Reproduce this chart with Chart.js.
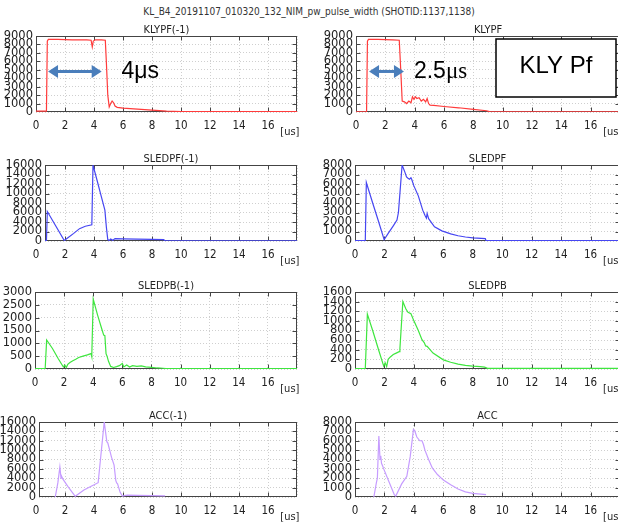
<!DOCTYPE html>
<html>
<head>
<meta charset="utf-8">
<script src="https://cdn.jsdelivr.net/npm/chart.js@4.4.1/dist/chart.umd.min.js"></script>
<style>
  html, body { margin: 0; padding: 0; background: #fff; width: 618px; height: 522px; overflow: hidden; }
  #titulo { position: absolute; left: 0; top: 6px; width: 618px; text-align: center; line-height: 12px;
            font: 10px "Liberation Sans Narrow", "DejaVu Sans Condensed", "Liberation Sans", sans-serif; color: #333; }
  canvas { position: absolute; }
</style>
</head>
<body>
<div id="titulo">KL_B4_20191107_010320_132_NIM_pw_pulse_width (SHOTID:1137,1138)</div>
<canvas id="p0"></canvas><canvas id="p1"></canvas>
<canvas id="p2"></canvas><canvas id="p3"></canvas>
<canvas id="p4"></canvas><canvas id="p5"></canvas>
<canvas id="p6"></canvas><canvas id="p7"></canvas>
<script>
// eixo x comum (us)
const xTicks = [0, 2, 4, 6, 8, 10, 12, 14, 16, 18];

// KLYPF(-1)
const klypfM1X = [0, 0.72, 0.78, 0.85, 1.5, 2.5, 3.5, 3.8, 3.88, 3.95, 4.1, 4.5, 4.78, 4.85, 4.95, 5.05, 5.15, 5.25, 5.35, 5.45, 5.6, 6, 7, 8, 9, 10, 18];
const klypfM1Y = [100, 100, 8400, 8600, 8600, 8550, 8550, 8500, 7700, 8400, 8550, 8550, 8500, 6000, 2000, 600, 1000, 1300, 1100, 700, 550, 450, 350, 220, 100, 60, 50];

// KLYPF
const klypfX = [0, 0.72, 0.78, 0.85, 1.5, 2.5, 2.95, 3.05, 3.15, 3.3, 3.45, 3.6, 3.75, 3.85, 3.95, 4.05, 4.15, 4.3, 4.45, 4.6, 4.75, 4.85, 4.95, 5.05, 5.3, 6, 7, 8, 8.9, 9.1, 18];
const klypfY = [30, 30, 8400, 8600, 8600, 8550, 8500, 5000, 1300, 1200, 1000, 1300, 1100, 1800, 1500, 1800, 1600, 1700, 1300, 1500, 1200, 1600, 1000, 800, 780, 650, 500, 300, 150, 40, 30];

// SLEDPF(-1)
const sledpfM1X = [0, 0.72, 0.78, 1.95, 2.2, 2.6, 3.0, 3.4, 3.85, 3.93, 4.2, 4.5, 4.75, 4.85, 4.95, 5.05, 5.15, 5.3, 5.45, 6, 7, 8, 8.8, 8.9, 18];
const sledpfM1Y = [100, 100, 6200, 100, 700, 1600, 2600, 3100, 3400, 16000, 12900, 9400, 6500, 3000, 300, 100, 400, 150, 500, 450, 400, 350, 300, 50, 50];

// SLEDPF
const sledpfX = [0, 0.7, 0.77, 1.2, 1.6, 1.98, 2.3, 2.6, 2.85, 2.95, 3.2, 3.4, 3.5, 3.6, 3.7, 3.8, 3.85, 4.0, 4.3, 4.6, 4.75, 4.85, 4.9, 5.0, 5.4, 5.9, 6.5, 7, 7.5, 8, 8.85, 8.9, 18];
const sledpfY = [30, 30, 6150, 4000, 2050, 150, 900, 1600, 2200, 3000, 8000, 7200, 6750, 6600, 6500, 6650, 6500, 5800, 4750, 3250, 2700, 2400, 2900, 2350, 1500, 1070, 750, 550, 420, 330, 260, 30, 30];

// SLEDPB(-1)
const sledpbM1X = [0, 0.7, 0.8, 1.2, 1.6, 1.95, 2.05, 2.15, 2.25, 2.4, 2.6, 2.8, 3.0, 3.3, 3.6, 3.85, 3.9, 4.0, 4.3, 4.6, 4.72, 4.8, 4.88, 4.95, 5.05, 5.2, 5.4, 5.6, 5.8, 6.0, 6.1, 6.3, 6.5, 6.7, 7, 7.3, 7.6, 8, 8.4, 8.8, 9, 18];
const sledpbM1Y = [20, 20, 1130, 800, 400, 80, 150, 60, 180, 250, 320, 380, 450, 500, 550, 600, 480, 2720, 2100, 1540, 1320, 1300, 600, 500, 300, 100, 60, 90, 130, 220, 80, 160, 80, 130, 100, 120, 80, 60, 40, 30, 15, 15];

// SLEDPB
const sledpbX = [0, 0.7, 0.84, 1.2, 1.6, 1.95, 2.05, 2.15, 2.25, 2.4, 2.6, 2.8, 3.0, 3.05, 3.25, 3.45, 3.6, 3.8, 4.0, 4.3, 4.55, 4.7, 4.8, 4.9, 5.3, 6, 6.5, 7, 7.5, 8, 8.5, 8.8, 9, 18];
const sledpbY = [10, 10, 1140, 800, 400, 60, 130, 50, 200, 250, 300, 330, 360, 420, 1400, 1250, 1180, 1150, 1000, 800, 610, 550, 480, 470, 330, 190, 140, 100, 75, 60, 50, 40, 15, 15];

// ACC(-1)
const accM1X = [1.32, 1.5, 1.64, 1.72, 1.78, 1.85, 2.2, 2.7, 3.3, 3.8, 4.28, 4.7, 4.88, 4.95, 5.2, 5.38, 5.5, 5.56, 5.62, 5.8, 5.95, 6.1, 6.3, 7, 8, 8.9];
const accM1Y = [0, 3000, 6400, 4000, 4300, 3800, 2200, 150, 1500, 2300, 3050, 16000, 11800, 11500, 8500, 6800, 3500, 3000, 2800, 1000, 200, 300, 400, 350, 300, 250];

// ACC
const accX = [1.28, 1.45, 1.52, 1.62, 1.7, 1.75, 1.8, 1.88, 1.95, 2.3, 2.67, 2.77, 3.17, 3.52, 3.75, 3.97, 4.05, 4.2, 4.4, 4.55, 4.65, 4.75, 5.0, 5.25, 5.6, 6.0, 6.5, 7, 7.5, 8, 8.9];
const accY = [0, 1500, 2000, 6500, 4000, 4400, 3600, 3300, 3000, 1650, 250, 100, 1400, 2200, 4300, 7200, 7100, 6400, 6000, 6000, 5600, 5000, 4000, 3100, 2400, 1800, 1300, 850, 550, 380, 250];

// geometria dos paineis (px na pagina)
const rowTop = [36, 165, 292, 422];
const rowBottom = [112, 241, 369, 497];
const colCanvasLeft = [0, 305];
const colRight = [297, 620];
const leftEdge = [[36, 356], [45, 355], [35, 355], [39, 355]];

const fonteEstreita = '"Liberation Sans Narrow", "DejaVu Sans Condensed", "Liberation Sans", sans-serif';

// moldura do grafico + marcas internas dos ticks + rotulo [us]
const moldura = {
  id: 'moldura',
  beforeDatasetsDraw(chart) {
    const { ctx, chartArea: a, scales: { x, y } } = chart;
    const l = Math.round(a.left) + 0.5, r = Math.round(a.right) - 0.5;
    const t = Math.round(a.top) + 0.5, b = Math.round(a.bottom) - 0.5;
    ctx.save();
    ctx.strokeStyle = '#444';
    ctx.lineWidth = 1;
    ctx.strokeRect(l, t, r - l, b - t);
    ctx.beginPath();
    x.ticks.forEach(tk => {
      if (tk.value <= x.min || tk.value >= x.max) return;
      const px = Math.round(x.getPixelForValue(tk.value)) + 0.5;
      ctx.moveTo(px, t); ctx.lineTo(px, t + 4);
      ctx.moveTo(px, b); ctx.lineTo(px, b - 4);
    });
    y.ticks.forEach(tk => {
      if (tk.value <= y.min || tk.value >= y.max) return;
      const py = Math.round(y.getPixelForValue(tk.value)) + 0.5;
      ctx.moveTo(l, py); ctx.lineTo(l + 4, py);
      ctx.moveTo(r, py); ctx.lineTo(r - 4, py);
    });
    ctx.stroke();
    ctx.restore();
  },
  afterDraw(chart) {
    const { ctx, chartArea: a, scales: { x } } = chart;
    ctx.save();
    ctx.font = '11px ' + fonteEstreita;
    ctx.fillStyle = '#222';
    ctx.textAlign = 'left';
    ctx.textBaseline = 'middle';
    ctx.fillText('[us]', x.getPixelForValue(16.85), a.bottom + 20);
    ctx.restore();
  }
};

function desenharSeta(ctx, x1, x2, y) {
  ctx.save();
  ctx.strokeStyle = '#4a7ebb';
  ctx.fillStyle = '#4a7ebb';
  ctx.lineWidth = 3;
  ctx.beginPath();
  ctx.moveTo(x1 + 8, y); ctx.lineTo(x2 - 8, y);
  ctx.stroke();
  ctx.beginPath();
  ctx.moveTo(x1, y); ctx.lineTo(x1 + 10, y - 6.5); ctx.lineTo(x1 + 10, y + 6.5); ctx.closePath();
  ctx.moveTo(x2, y); ctx.lineTo(x2 - 10, y - 6.5); ctx.lineTo(x2 - 10, y + 6.5); ctx.closePath();
  ctx.fill();
  ctx.restore();
}

const anotacaoEsq = {
  id: 'anotacaoEsq',
  afterDraw(chart) {
    const { ctx, scales: { x, y } } = chart;
    const yy = y.getPixelForValue(4800);
    desenharSeta(ctx, x.getPixelForValue(0.83), x.getPixelForValue(4.53), yy);
    ctx.save();
    ctx.fillStyle = '#000';
    ctx.textBaseline = 'middle';
    ctx.font = '23px "Liberation Sans", Arial, sans-serif';
    ctx.fillText('4μs', x.getPixelForValue(5.9), yy);
    ctx.restore();
  }
};

const anotacaoDir = {
  id: 'anotacaoDir',
  afterDraw(chart) {
    const { ctx, chartArea: a, scales: { x, y } } = chart;
    const yy = y.getPixelForValue(4800);
    desenharSeta(ctx, x.getPixelForValue(0.89), x.getPixelForValue(3.27), yy);
    ctx.save();
    ctx.fillStyle = '#000';
    ctx.textBaseline = 'middle';
    const x0 = x.getPixelForValue(3.95);
    ctx.font = '23px "Liberation Sans", Arial, sans-serif';
    ctx.fillText('2.5', x0, yy);
    const w = ctx.measureText('2.5').width;
    ctx.font = '23px "Liberation Serif", "Times New Roman", serif';
    ctx.fillText('μs', x0 + w, yy);
    // caixa KLY Pf
    const bx = a.left + 140, by = a.top + 3;
    ctx.fillStyle = '#fff';
    ctx.fillRect(bx, by, 120, 58);
    ctx.strokeStyle = '#000';
    ctx.lineWidth = 1.5;
    ctx.strokeRect(bx, by, 120, 58);
    ctx.fillStyle = '#000';
    ctx.textAlign = 'center';
    ctx.font = '24px "Liberation Sans", Arial, sans-serif';
    ctx.fillText('KLY Pf', bx + 60, by + 27);
    ctx.restore();
  }
};

const paineis = [
  { id: 'p0', row: 0, col: 0, titulo: 'KLYPF(-1)', xs: klypfM1X, ys: klypfM1Y, cor: '#ff3b3b', yMax: 9000, yStep: 1000, xMin: 0, extra: [anotacaoEsq] },
  { id: 'p1', row: 0, col: 1, titulo: 'KLYPF', xs: klypfX, ys: klypfY, cor: '#ff3b3b', yMax: 9000, yStep: 1000, xMin: 0, extra: [anotacaoDir] },
  { id: 'p2', row: 1, col: 0, titulo: 'SLEDPF(-1)', xs: sledpfM1X, ys: sledpfM1Y, cor: '#4646f2', yMax: 16000, yStep: 2000, xMin: 0.62, extra: [] },
  { id: 'p3', row: 1, col: 1, titulo: 'SLEDPF', xs: sledpfX, ys: sledpfY, cor: '#4646f2', yMax: 8000, yStep: 1000, xMin: 0, extra: [] },
  { id: 'p4', row: 2, col: 0, titulo: 'SLEDPB(-1)', xs: sledpbM1X, ys: sledpbM1Y, cor: '#3ee63e', yMax: 3000, yStep: 500, xMin: 0, extra: [] },
  { id: 'p5', row: 2, col: 1, titulo: 'SLEDPB', xs: sledpbX, ys: sledpbY, cor: '#3ee63e', yMax: 1600, yStep: 200, xMin: 0, extra: [] },
  { id: 'p6', row: 3, col: 0, titulo: 'ACC(-1)', xs: accM1X, ys: accM1Y, cor: '#c69cff', yMax: 16000, yStep: 2000, xMin: 0.2, extra: [] },
  { id: 'p7', row: 3, col: 1, titulo: 'ACC', xs: accX, ys: accY, cor: '#c69cff', yMax: 8000, yStep: 1000, xMin: 0, extra: [] }
];

function criarPainel(p) {
  const canvas = document.getElementById(p.id);
  const cx = colCanvasLeft[p.col];
  const top = rowTop[p.row] - 14;
  const w = colRight[p.col] + 10 - cx;
  const h = 14 + (rowBottom[p.row] - rowTop[p.row]) + 28;
  canvas.width = w;
  canvas.height = h;
  canvas.style.left = cx + 'px';
  canvas.style.top = top + 'px';
  const larguraY = leftEdge[p.row][p.col] - cx;

  new Chart(canvas, {
    type: 'line',
    data: {
      datasets: [{
        data: p.xs.map((x, i) => ({ x: x, y: p.ys[i] })),
        borderColor: p.cor,
        borderWidth: 1.2,
        pointRadius: 0,
        tension: 0,
        fill: false
      }]
    },
    options: {
      responsive: false,
      animation: false,
      devicePixelRatio: 1,
      layout: { padding: { top: 3, right: 10, left: 0, bottom: 0 } },
      plugins: {
        legend: { display: false },
        tooltip: { enabled: false },
        title: {
          display: true, text: p.titulo, fullSize: false, padding: 0, color: '#222',
          font: { family: fonteEstreita, size: 11, weight: 'normal', lineHeight: 1 }
        }
      },
      scales: {
        x: {
          type: 'linear', min: p.xMin, max: 18,
          afterFit: s => { s.height = 28; },
          afterBuildTicks: s => { s.ticks = xTicks.map(v => ({ value: v })); },
          ticks: {
            autoSkip: false, maxRotation: 0, padding: 8, color: '#222',
            font: { family: fonteEstreita, size: 11.5, lineHeight: 1 },
            callback: v => (v === 18 ? '' : String(v))
          },
          grid: {
            drawTicks: false,
            color: c => (c.tick && c.tick.value < p.xMin ? 'rgba(0,0,0,0)' : '#cfcfcf')
          },
          border: { display: false, dash: [1, 2] }
        },
        y: {
          min: 0, max: p.yMax,
          afterFit: s => { s.width = larguraY; },
          ticks: {
            stepSize: p.yStep, autoSkip: false, padding: 3, color: '#222',
            font: { family: '"DejaVu Sans", sans-serif', size: 11.5, lineHeight: 1 },
            callback: v => String(v)
          },
          grid: { drawTicks: false, color: '#cfcfcf' },
          border: { display: false, dash: [1, 2] }
        }
      }
    },
    plugins: [moldura].concat(p.extra)
  });
}

paineis.forEach(criarPainel);
</script>
</body>
</html>
